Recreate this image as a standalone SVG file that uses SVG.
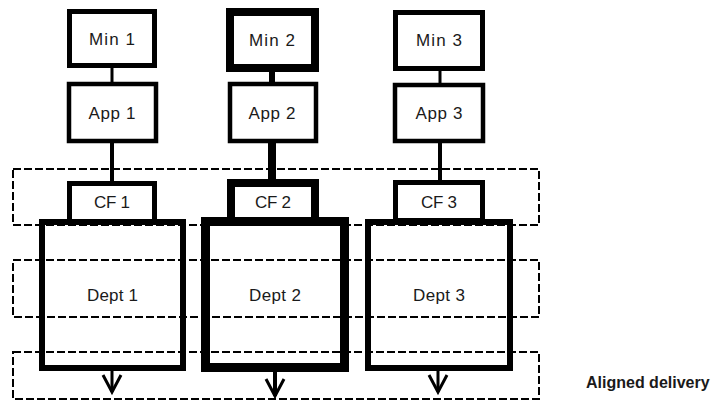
<svg xmlns="http://www.w3.org/2000/svg" width="717" height="402" viewBox="0 0 717 402">
  <style>
    .box { fill: #ffffff; stroke: #000000; }
    .dept { fill: none; stroke: #000000; }
    .band { fill: none; stroke: #000000; stroke-width: 2; stroke-dasharray: 8 3; }
    .link { stroke: #000000; fill: none; }
    .lbl { font-family: "Liberation Sans", Arial, sans-serif; font-size: 17px; fill: #1a1a1a; text-anchor: middle; dominant-baseline: central; }
    .note { font-family: "Liberation Sans", Arial, sans-serif; font-size: 16px; font-weight: bold; fill: #1a1a1a; }
  </style>
  <defs>
    <!-- open V arrowhead; +x points along the line -->
    <marker id="vhead" markerUnits="userSpaceOnUse" markerWidth="26" markerHeight="26" viewBox="-22 -13 26 26" refX="0" refY="0" orient="auto">
      <path d="M -17 -9 L 0 0 L -17 9" fill="none" stroke="#000000" stroke-width="3"/>
    </marker>
  </defs>

  <rect width="717" height="402" fill="#ffffff"/>

  <!-- horizontal dashed bands -->
  <g id="bands">
    <rect class="band" x="13" y="169" width="526" height="56"/>
    <rect class="band" x="13" y="260" width="526" height="57"/>
    <rect class="band" x="13" y="352" width="526" height="47"/>
  </g>

  <!-- connectors -->
  <g id="connectors">
    <line class="link" x1="112" y1="66" x2="112" y2="84" stroke-width="3"/>
    <line class="link" x1="272" y1="68" x2="272" y2="84" stroke-width="6"/>
    <line class="link" x1="440" y1="68" x2="440" y2="85" stroke-width="3"/>
    <line class="link" x1="112" y1="141" x2="112" y2="183" stroke-width="4"/>
    <line class="link" x1="272" y1="141" x2="272" y2="183" stroke-width="8"/>
    <line class="link" x1="440" y1="141" x2="440" y2="182" stroke-width="4"/>
    <line class="link" x1="112" y1="371" x2="112" y2="392" stroke-width="3" marker-end="url(#vhead)"/>
    <line class="link" x1="275" y1="372" x2="275" y2="396" stroke-width="4" marker-end="url(#vhead)"/>
    <line class="link" x1="438" y1="371" x2="438" y2="392" stroke-width="3" marker-end="url(#vhead)"/>
  </g>

  <!-- column 1 -->
  <g id="min1">
    <rect class="box" x="69.5" y="11.5" width="85" height="54" stroke-width="5"/>
    <text class="lbl" x="112" y="39" textLength="46" lengthAdjust="spacing">Min 1</text>
  </g>
  <g id="app1">
    <rect class="box" x="69" y="84" width="87" height="57" stroke-width="4.5"/>
    <text class="lbl" x="112" y="113" textLength="47" lengthAdjust="spacing">App 1</text>
  </g>
  <g id="cf1">
    <rect class="box" x="69.5" y="183.5" width="85" height="38" stroke-width="5"/>
    <text class="lbl" x="112" y="202" textLength="36" lengthAdjust="spacing">CF 1</text>
  </g>
  <g id="dept1">
    <rect class="dept" x="42" y="222" width="141" height="146" stroke-width="6"/>
    <text class="lbl" x="112.5" y="295" textLength="51" lengthAdjust="spacing">Dept 1</text>
  </g>

  <!-- column 2 -->
  <g id="min2">
    <rect class="box" x="230" y="12" width="85" height="56" stroke-width="8"/>
    <text class="lbl" x="272" y="40" textLength="46" lengthAdjust="spacing">Min 2</text>
  </g>
  <g id="app2">
    <rect class="box" x="230" y="84" width="86" height="57" stroke-width="4.5"/>
    <text class="lbl" x="272" y="113" textLength="47" lengthAdjust="spacing">App 2</text>
  </g>
  <g id="cf2">
    <rect class="box" x="231" y="183" width="84" height="38" stroke-width="8"/>
    <text class="lbl" x="273" y="202" textLength="36" lengthAdjust="spacing">CF 2</text>
  </g>
  <g id="dept2">
    <rect class="dept" x="205.5" y="221.5" width="139" height="146" stroke-width="9"/>
    <text class="lbl" x="275" y="295" textLength="52" lengthAdjust="spacing">Dept 2</text>
  </g>

  <!-- column 3 -->
  <g id="min3">
    <rect class="box" x="395.5" y="12.5" width="87" height="56" stroke-width="5"/>
    <text class="lbl" x="439" y="40" textLength="46" lengthAdjust="spacing">Min 3</text>
  </g>
  <g id="app3">
    <rect class="box" x="395" y="85" width="88" height="56" stroke-width="4.5"/>
    <text class="lbl" x="439" y="113" textLength="47" lengthAdjust="spacing">App 3</text>
  </g>
  <g id="cf3">
    <rect class="box" x="395.5" y="182.5" width="87" height="38" stroke-width="5"/>
    <text class="lbl" x="439" y="202" textLength="36" lengthAdjust="spacing">CF 3</text>
  </g>
  <g id="dept3">
    <rect class="dept" x="368" y="222" width="142" height="146" stroke-width="6"/>
    <text class="lbl" x="439" y="295" textLength="52" lengthAdjust="spacing">Dept 3</text>
  </g>

  <!-- side caption for the bottom band -->
  <g id="aligned-delivery">
    <text class="note" x="586" y="388">Aligned delivery</text>
  </g>
</svg>
